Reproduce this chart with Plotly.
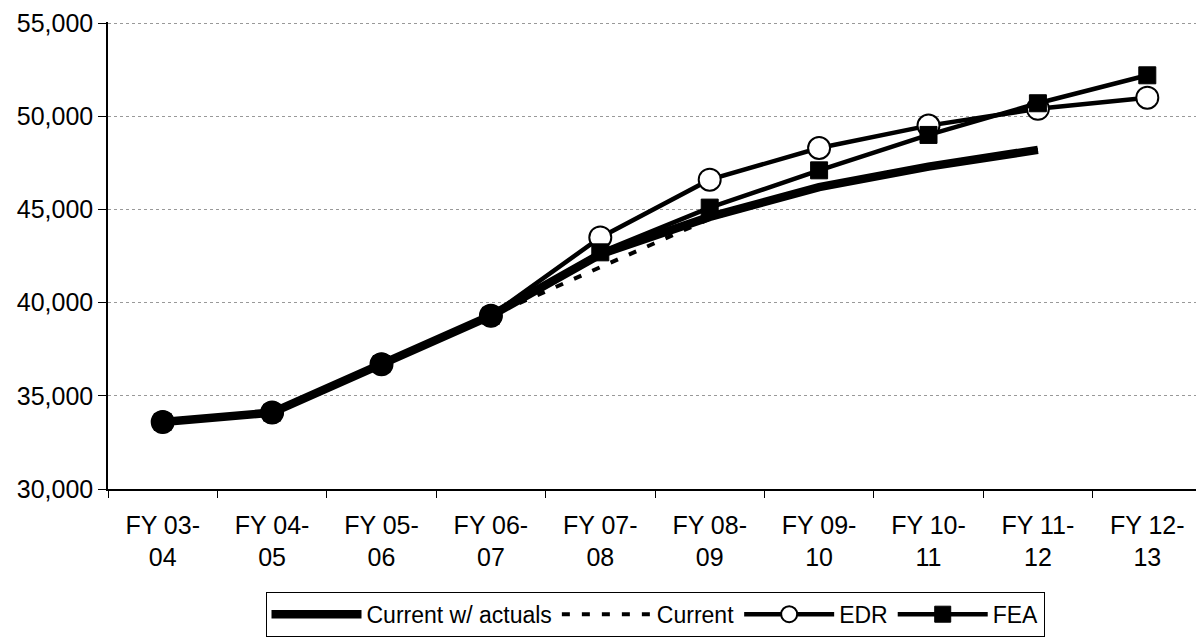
import plotly.graph_objs as go

years = ['FY 03-<br>04', 'FY 04-<br>05', 'FY 05-<br>06', 'FY 06-<br>07', 'FY 07-<br>08',
         'FY 08-<br>09', 'FY 09-<br>10', 'FY 10-<br>11', 'FY 11-<br>12', 'FY 12-<br>13']

current_actuals = [33600, 34100, 36700, 39300, 42600, 44600, 46200, 47300, 48200, None]
current = [33600, 34100, 36700, 39300, 41900, 44500, 46200, 47300, 48200, None]
edr = [33600, 34100, 36700, 39300, 43500, 46600, 48300, 49500, 50400, 51000]
fea = [33600, 34100, 36700, 39300, 42700, 45100, 47100, 49000, 50700, 52200]

# the years already known show up as solid round dots in the original
n_actual = 4

fig = go.Figure()

fig.add_trace(go.Scatter(
    x=years, y=current_actuals, name='Current w/ actuals', mode='lines',
    line=dict(color='black', width=8.5)
))
fig.add_trace(go.Scatter(
    x=years, y=current, name='Current', mode='lines',
    line=dict(color='black', width=4, dash='8px,12px')
))
fig.add_trace(go.Scatter(
    x=years, y=edr, name='EDR', mode='lines+markers',
    line=dict(color='black', width=4.5),
    marker=dict(symbol='circle', size=22, color='white', opacity=1,
                line=dict(color='black', width=2))
))
fig.add_trace(go.Scatter(
    x=years, y=fea, name='FEA', mode='lines+markers',
    line=dict(color='black', width=4.5),
    marker=dict(symbol='square', size=17, color='black', opacity=1,
                line=dict(color='black', width=1))
))
fig.add_trace(go.Scatter(
    x=years[:n_actual], y=current_actuals[:n_actual], mode='markers',
    showlegend=False, hoverinfo='skip',
    marker=dict(symbol='circle', size=23, color='black', opacity=1)
))

# the page puts the plot 8px in from the corner, hence the trimmed size
fig.update_layout(
    width=1196, height=632,
    margin=dict(l=100, r=2, t=14, b=151, autoexpand=False),
    plot_bgcolor='white', paper_bgcolor='white',
    font=dict(family='Liberation Sans, Arial, sans-serif', size=25, color='black'),
    showlegend=True,
    legend=dict(
        orientation='h', x=0.5, xanchor='center', y=-0.22, yanchor='top',
        bordercolor='black', borderwidth=1, itemwidth=90,
        font=dict(size=23), tracegroupgap=0
    ),
    xaxis=dict(
        type='category', range=[-0.5, 9.5], tickson='boundaries',
        ticks='outside', ticklen=7, tickcolor='black',
        showline=True, linecolor='black', linewidth=1.5,
        showgrid=False, tickfont=dict(size=25), ticklabelstandoff=13
    ),
    yaxis=dict(
        range=[30000, 55060], dtick=5000, tickformat=',',
        ticks='outside', ticklen=8, tickcolor='black',
        showline=True, linecolor='black', linewidth=1.5,
        showgrid=True, gridcolor='#999999', griddash='dot', gridwidth=1,
        zeroline=False, tickfont=dict(size=25), ticklabeloverflow='allow'
    )
)

fig.write_html("out.html")
